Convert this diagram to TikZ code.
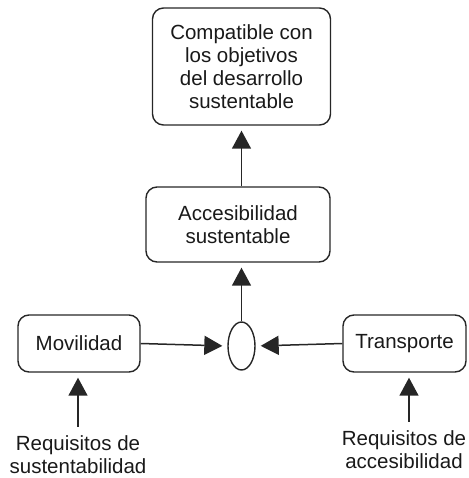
\documentclass[tikz,border=0pt]{standalone}
\usepackage{fontspec}
\setmainfont{Liberation Sans}
\usetikzlibrary{arrows.meta,shapes.geometric}
\begin{document}
\begin{tikzpicture}[x=1pt,y=1pt,yscale=-1,
  txt/.style={font=\fontsize{20.5}{23}\selectfont, text=black!90, align=center},
  box/.style={txt, draw=black!85, line width=1.4pt, rounded corners=11pt, inner sep=0pt},
  arr/.style={draw=black!85, line width=1.5pt, -{Triangle[length=18pt,width=19pt]}, shorten >=5pt}
]
\useasboundingbox (0,0) rectangle (468,478);
\node[box, minimum width=178pt, minimum height=117pt] (top) at (241.5,66.5)
  {Compatible con\\los objetivos\\del desarrollo\\sustentable};
\node[box, minimum width=184pt, minimum height=75pt] (mid) at (238,224.5)
  {Accesibilidad\\sustentable};
\node[ellipse, draw=black!85, line width=1.4pt, minimum width=27pt, minimum height=48pt, inner sep=0pt] (ell) at (241.5,346) {};
\node[box, minimum width=122pt, minimum height=57pt] (mov) at (79,343.5) {Movilidad};
\node[box, minimum width=123pt, minimum height=57pt] (tra) at (404.5,343.5) {Transporte};
\node[txt, inner sep=0pt] (req1) at (78,455) {Requisitos de\\sustentabilidad};
\node[txt, inner sep=0pt] (req2) at (404,450) {Requisitos de\\accesibilidad};
\draw[arr] (mid.north -| top.south) -- (top.south);
\draw[arr] (ell.north) -- (ell.north |- mid.south);
\draw[arr] (mov.east) -- (ell.west);
\draw[arr] (tra.west) -- (ell.east);
\draw[arr, shorten <=9pt] (req1.north) -- (req1.north |- mov.south);
\draw[arr, shorten <=9pt] ([xshift=5pt]req2.north) -- ([xshift=5pt]req2.north |- tra.south);
\end{tikzpicture}
\end{document}
